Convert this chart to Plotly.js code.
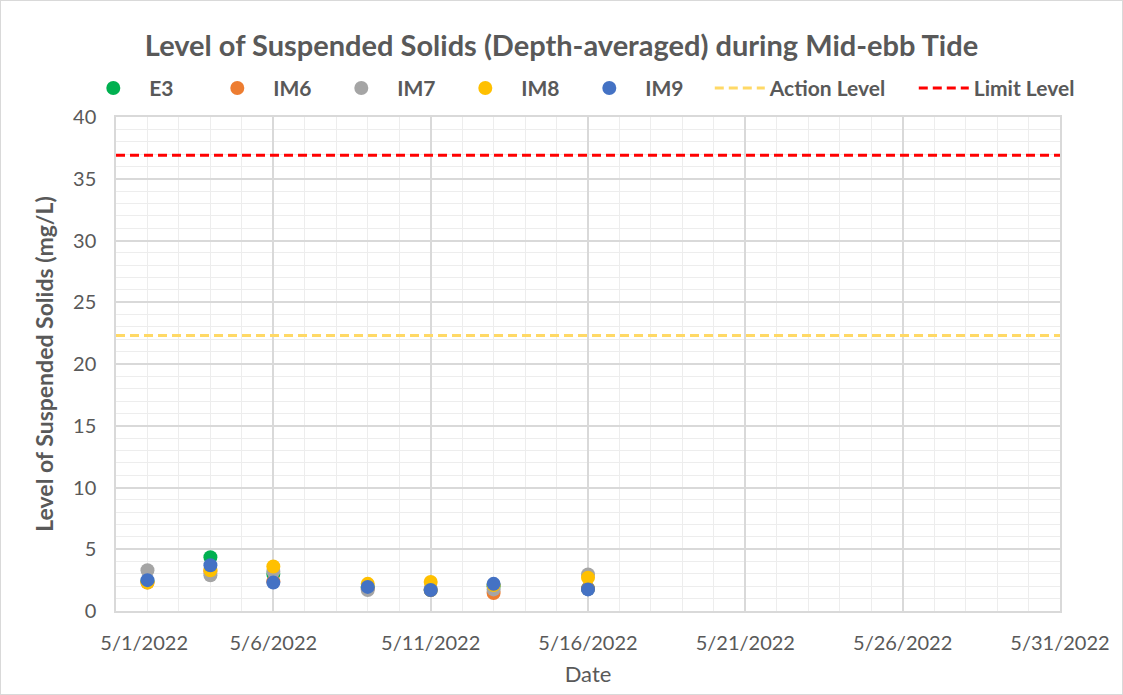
<!DOCTYPE html>
<html>
<head>
<meta charset="utf-8">
<script src="https://cdn.plot.ly/plotly-3.0.1.min.js"></script>
<style>
html,body{margin:0;padding:0;background:#fff;}
#chart{width:1121px;height:693px;border:1px solid #D9D9D9;}
</style>
</head>
<body>
<div id="chart"></div>
<script>
// Data
var dates = ['2022-05-02','2022-05-04','2022-05-06','2022-05-09','2022-05-11','2022-05-13','2022-05-16'];
var E3  = [2.4, 4.35, 3.0, 1.9, 1.7, 2.0, 1.8];
var IM6 = [2.3, 3.2, 2.4, 1.8, 1.7, 1.45, 1.8];
var IM7 = [3.3, 2.9, 3.2, 1.7, 1.8, 1.75, 2.95];
var IM8 = [2.3, 3.3, 3.6, 2.2, 2.35, 2.1, 2.7];
var IM9 = [2.5, 3.7, 2.3, 1.95, 1.7, 2.2, 1.75];
var levelDates = ['2022-05-01','2022-05-31'];
var actionLevel = [22.3, 22.3];
var limitLevel = [36.9, 36.9];
var tickLabels = ['\u00a0\u00a0\u00a0\u00a0\u00a0\u00a0\u00a0\u00a0\u00a0\u00a0\u00a05/1/2022','5/6/2022','5/11/2022','5/16/2022','5/21/2022','5/26/2022','5/31/2022'];
var tickDates = ['2022-05-01','2022-05-06','2022-05-11','2022-05-16','2022-05-21','2022-05-26','2022-05-31'];

var gray = '#595959';
var font = 'Lato, "Open Sans", sans-serif';

function pts(name, y, color) {
  return {x: dates, y: y, name: name, type: 'scatter', mode: 'markers',
    marker: {color: color, size: 14}, legend: 'legend'};
}
var traces = [
  pts('<b>E3</b>', E3, '#00B050'),
  pts('<b>IM6</b>', IM6, '#ED7D31'),
  pts('<b>IM7</b>', IM7, '#A5A5A5'),
  pts('<b>IM8</b>', IM8, '#FFC000'),
  pts('<b>IM9</b>', IM9, '#4472C4'),
  {x: levelDates, y: actionLevel, name: '<b>Action Level</b>', type: 'scatter', mode: 'lines',
    line: {color: '#FFD966', width: 3, dash: '9px,5px'}, legend: 'legend2'},
  {x: levelDates, y: limitLevel, name: '<b>Limit Level</b>', type: 'scatter', mode: 'lines',
    line: {color: '#FF0000', width: 3, dash: '9px,5px'}, legend: 'legend2'}
];

var legFont = {size: 21, color: gray, family: font};
var layout = {
  width: 1121, height: 693,
  margin: {l: 115, r: 62, t: 116, b: 83, autoexpand: false},
  paper_bgcolor: '#fff', plot_bgcolor: '#fff',
  font: {family: font, color: gray},
  title: {text: '<b>Level of Suspended Solids (Depth-averaged) during Mid-ebb Tide</b>',
    font: {size: 29, color: gray, family: font}, x: 0.5, xanchor: 'center', y: 0.935, yanchor: 'middle'},
  showlegend: true,
  legend: {orientation: 'h', x: -0.041, xanchor: 'left', y: 1.058, yanchor: 'middle',
    font: legFont, itemwidth: 62, entrywidth: 47, bgcolor: 'rgba(0,0,0,0)'},
  legend2: {orientation: 'h', x: 0.629, xanchor: 'left', y: 1.058, yanchor: 'middle',
    font: legFont, itemwidth: 50, entrywidth: 139, bgcolor: 'rgba(0,0,0,0)'},
  xaxis: {
    type: 'date',
    range: ['2022-05-01', '2022-05-31'],
    tickmode: 'array', tickvals: tickDates, ticktext: tickLabels,
    tickfont: {size: 20, color: gray, family: font},
    showgrid: true, gridcolor: '#D9D9D9', gridwidth: 1.5,
    minor: {dtick: 86400000, tick0: '2022-05-01', showgrid: true, gridcolor: '#EDEDED', gridwidth: 1},
    showline: true, linecolor: '#D9D9D9', linewidth: 1.5, mirror: true,
    ticks: '', zeroline: false, ticklabelstandoff: 13,
    title: {text: 'Date', font: {size: 22, color: gray, family: font}, standoff: 14}
  },
  yaxis: {
    range: [0, 40], dtick: 5, tick0: 0,
    tickfont: {size: 20, color: gray, family: font},
    showgrid: true, gridcolor: '#D9D9D9', gridwidth: 1.5,
    minor: {dtick: 1, showgrid: true, gridcolor: '#EDEDED', gridwidth: 1},
    showline: true, linecolor: '#D9D9D9', linewidth: 1.5, mirror: true,
    ticks: '', zeroline: false, ticklabelstandoff: 14,
    title: {text: '<b>Level of Suspended Solids (mg/L)</b>', font: {size: 23, color: gray, family: font}, standoff: 13}
  }
};

Plotly.newPlot('chart', traces, layout, {displayModeBar: false, responsive: false});
</script>
</body>
</html>
